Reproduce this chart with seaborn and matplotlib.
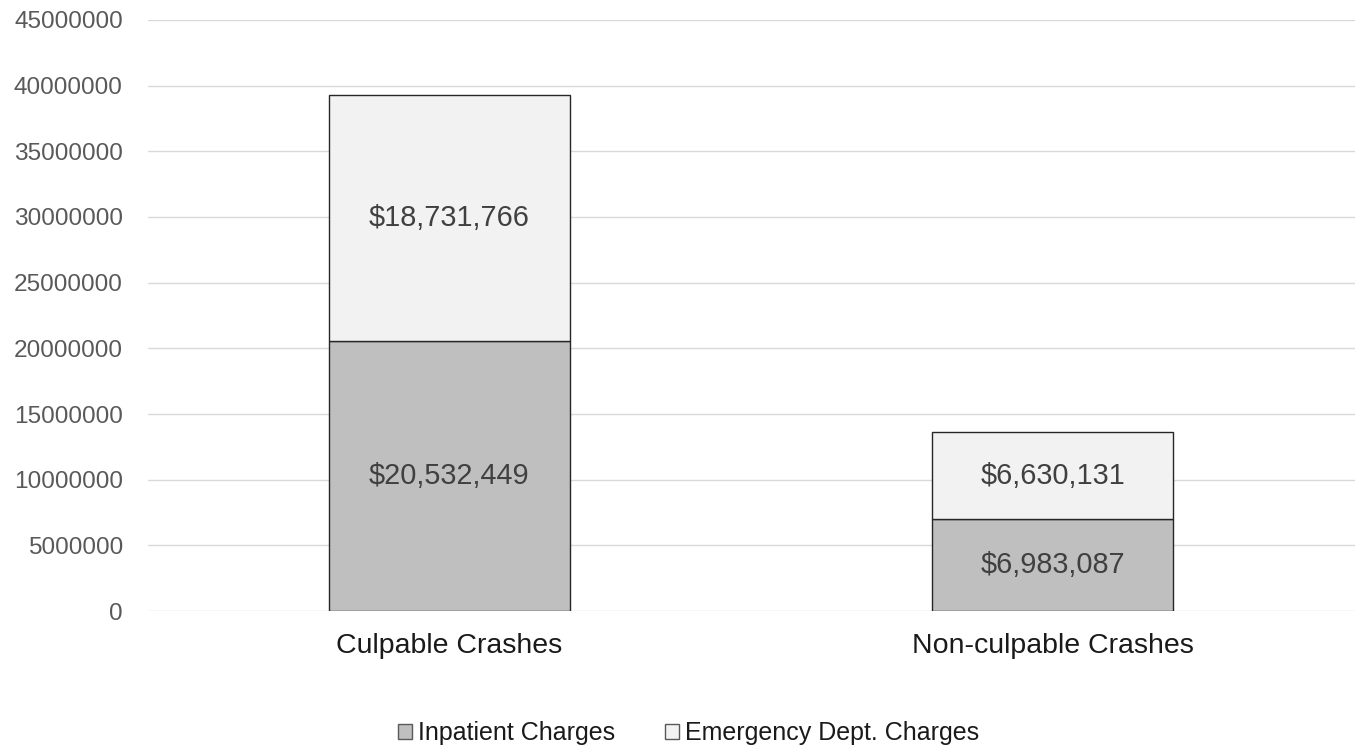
import matplotlib
matplotlib.use("Agg")
import matplotlib.pyplot as plt
import seaborn as sns
import pandas as pd
from matplotlib.patches import Patch

categories = ["Culpable Crashes", "Non-culpable Crashes"]
inpatient = [20532449, 6983087]
emergency = [18731766, 6630131]
series_names = ["Inpatient Charges", "Emergency Dept. Charges"]
yticks = [0, 5000000, 10000000, 15000000, 20000000, 25000000, 30000000, 35000000, 40000000, 45000000]

sns.set_theme(style="white")
plt.rcParams['font.family'] = ['Liberation Sans', 'DejaVu Sans']

col_in = "#bfbfbf"
col_ed = "#f2f2f2"
edge = "#262626"

fig = plt.figure(figsize=(13.62, 7.51), dpi=100)
ax = fig.add_axes([0.1085, 0.1864, 0.886, 0.787])

df = pd.DataFrame({"cat": categories, "inp": inpatient, "ed": emergency})

sns.barplot(data=df, x="cat", y="inp", color=col_in, ax=ax, width=0.4,
            edgecolor=edge, linewidth=1.0, saturation=1, zorder=3)
sns.barplot(data=df, x="cat", y="ed", bottom=df["inp"], color=col_ed, ax=ax,
            width=0.4, edgecolor=edge, linewidth=1.0, saturation=1, zorder=3)

for i, (a, b) in enumerate(zip(inpatient, emergency)):
    ax.text(i, a / 2, f"${a:,}", ha="center", va="center", fontsize=20.8, color="#404040", zorder=4)
    ax.text(i, a + b / 2, f"${b:,}", ha="center", va="center", fontsize=20.8, color="#404040", zorder=4)

ax.set_xlim(-0.5, 1.5)
ax.set_ylim(0, 45000000)
ax.set_yticks(yticks)
ax.set_yticklabels([str(v) for v in yticks])
ax.yaxis.grid(True, color="#d9d9d9", linewidth=1.0, zorder=0)
ax.set_axisbelow(True)
for s in ax.spines.values():
    s.set_visible(False)
ax.tick_params(axis="y", length=0, pad=18, labelsize=17.6, labelcolor="#595959")
ax.tick_params(axis="x", length=0, pad=16, labelsize=20.5, labelcolor="#1a1a1a")
ax.set_xlabel("")
ax.set_ylabel("")

handles = [Patch(facecolor=col_in, edgecolor="#595959", linewidth=1.0, label=series_names[0]),
           Patch(facecolor=col_ed, edgecolor="#595959", linewidth=1.0, label=series_names[1])]
fig.legend(handles=handles, loc="center", bbox_to_anchor=(0.5055, 0.024), ncol=2, frameon=False,
           fontsize=18, handlelength=0.55, handleheight=0.55, handletextpad=0.25,
           columnspacing=2.0, labelcolor="#1a1a1a")

fig.savefig("out.png", dpi=100)
